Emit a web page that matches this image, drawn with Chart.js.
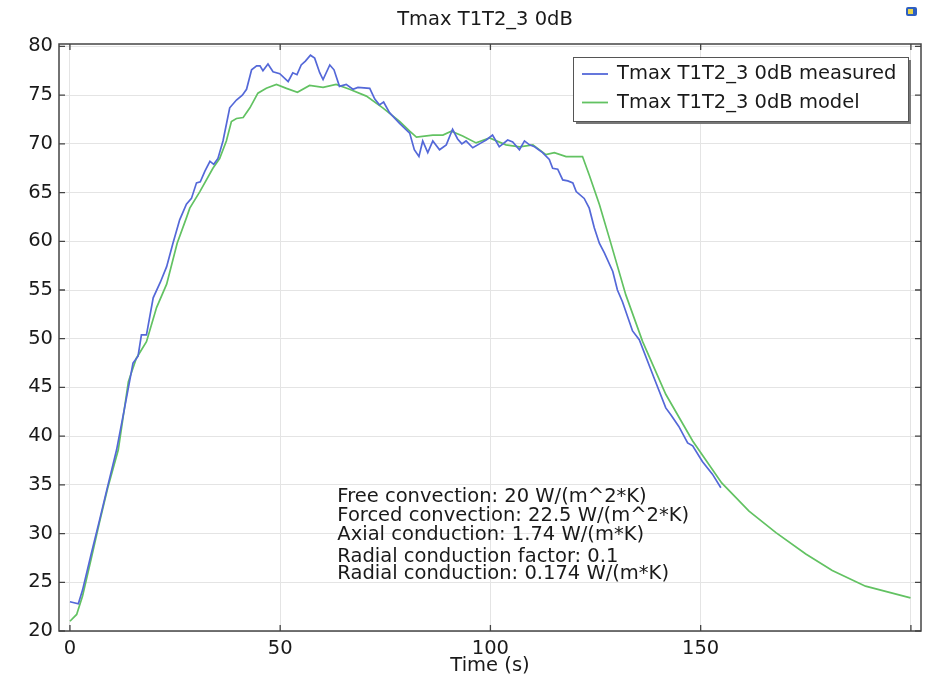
<!DOCTYPE html>
<html>
<head>
<meta charset="utf-8">
<script src="https://cdn.jsdelivr.net/npm/chart.js@4"></script>
<style>
  html, body { margin: 0; padding: 0; background: #fff; }
  canvas { display: block; }
</style>
</head>
<body>
<canvas id="chart" width="925" height="678"></canvas>
<script>
// Data
const chartTitle = 'Tmax T1T2_3 0dB';
const seriesNames = ['Tmax T1T2_3 0dB measured', 'Tmax T1T2_3 0dB model'];
const xTickValues = [0, 50, 100, 150, 200];
const xTickLabels = ['0', '50', '100', '150', ''];   // 200 has a grid line but no label
const yTickValues = [20, 25, 30, 35, 40, 45, 50, 55, 60, 65, 70, 75, 80];

const measuredTime = [0, 2, 3, 5, 7, 9, 11.1, 13, 15, 16.2, 17, 18.2, 19.8, 21.5, 23, 24.5, 26.1, 27.7, 28.9, 30.1,
  31, 32.1, 33.3, 34.2, 35.2, 36.4, 38, 39.6, 41, 42, 43.2, 44.4, 45.2, 45.9, 47.1, 48.3, 49.9, 51.9, 53, 54,
  55, 56, 57.2, 58.2, 59.4, 60.2, 61.8, 62.8, 64.1, 65.7, 67.3, 68.5, 71.3, 72.5, 73.6, 74.6, 76, 78.4, 80.8, 81.9,
  83, 83.9, 85.1, 86.3, 87.9, 89.5, 91, 92.2, 93.2, 94.2, 95.8, 97.8, 99, 100.5, 102.1, 104.1, 105.3, 106.9, 108.1, 109.3,
  110.5, 112.4, 114, 114.8, 116, 117.2, 118.4, 119.6, 120.4, 122.3, 123.5, 124.7, 125.9, 127.1, 129.1, 130.2, 131.4, 133.8,
  135.4, 138.9, 141.7, 142.9, 144.8, 146.9, 148.1, 150.4, 152.8, 154.8];
const measuredTemp = [23.0, 22.8, 24.2, 27.8, 31.3, 34.9, 38.6, 42.9, 47.5, 48.2, 50.4, 50.4, 54.2, 55.8, 57.4, 59.8, 62.2, 63.8, 64.4, 66.0,
  66.1, 67.2, 68.2, 67.9, 68.5, 70.3, 73.7, 74.5, 75.0, 75.6, 77.6, 78.0, 78.0, 77.5, 78.2, 77.4, 77.2, 76.4, 77.3, 77.1,
  78.1, 78.5, 79.1, 78.8, 77.3, 76.6, 78.1, 77.6, 75.9, 76.1, 75.6, 75.8, 75.7, 74.6, 74.0, 74.3, 73.2, 72.1, 71.1, 69.4,
  68.7, 70.3, 69.1, 70.3, 69.4, 69.9, 71.5, 70.5, 70.0, 70.3, 69.6, 70.1, 70.4, 70.9, 69.7, 70.4, 70.2, 69.4, 70.3, 69.9,
  69.7, 69.1, 68.4, 67.5, 67.4, 66.3, 66.2, 66.0, 65.1, 64.4, 63.4, 61.4, 59.8, 58.8, 56.9, 55.0, 53.8, 50.8,
  49.9, 46.0, 42.9, 42.2, 41.0, 39.3, 39.0, 37.4, 36.1, 34.7];

const modelTime = [0, 1.6, 3, 5, 7, 9, 11.5, 13.9, 15.8, 18.2, 20.6, 23, 25.5, 27.7, 28.5, 30.9, 34, 35.6, 37.2, 38.4,
  39.6, 41.2, 42.8, 44.7, 46.7, 49.1, 51.5, 54.1, 57, 60.2, 63.3, 66.5, 70.5, 74.4, 78.4, 80.8, 82.4, 86.3, 88.7, 90.7,
  93.4, 96.6, 99.8, 103.7, 106.9, 110.1, 113.2, 115.2, 118, 121.9, 123.5, 125.9, 128.3, 132.2, 136.2, 141.7, 148.1, 155,
  161.5, 167.9, 175, 181.3, 189.2, 199.9];
const modelTemp = [21.0, 21.7, 23.6, 27.3, 31.1, 34.7, 38.6, 45.6, 48.0, 49.7, 53.2, 55.6, 59.8, 62.4, 63.4, 65.1, 67.5, 68.5, 70.3, 72.3,
  72.6, 72.7, 73.7, 75.2, 75.7, 76.1, 75.7, 75.3, 76.0, 75.8, 76.1, 75.6, 74.9, 73.7, 72.3, 71.3, 70.7, 70.9, 70.9, 71.3,
  70.8, 70.1, 70.6, 69.9, 69.7, 69.9, 68.9, 69.1, 68.7, 68.7, 66.8, 63.8, 60.3, 54.5, 49.7, 44.3, 39.5, 35.2,
  32.3, 30.1, 27.9, 26.2, 24.6, 23.4];

const noteLines = [
  'Free convection: 20 W/(m^2*K)',
  'Forced convection: 22.5 W/(m^2*K)',
  'Axial conduction: 1.74 W/(m*K)',
  'Radial conduction factor: 0.1',
  'Radial conduction: 0.174 W/(m*K)'
];

const FONT = '"DejaVu Sans", Verdana, sans-serif';
const TXT = '#1a1a1a';
const blue = '#5468d8';
const green = '#62c262';

function toPoints(xs, ys) {
  return xs.map((x, i) => ({ x: x, y: ys[i] }));
}

// frame, inward ticks, title, legend, notes and the little icon
const decorPlugin = {
  id: 'decor',
  afterDraw(chart) {
    const ctx = chart.ctx;
    const a = chart.chartArea;
    const xs = chart.scales.x;
    const ys = chart.scales.y;
    ctx.save();

    // frame
    ctx.strokeStyle = '#444';
    ctx.lineWidth = 1.5;
    ctx.strokeRect(a.left, a.top, a.right - a.left, a.bottom - a.top);

    // inward ticks
    ctx.lineWidth = 1.3;
    ctx.beginPath();
    xTickValues.forEach(v => {
      const px = xs.getPixelForValue(v);
      ctx.moveTo(px, a.bottom); ctx.lineTo(px, a.bottom - 6);
      ctx.moveTo(px, a.top); ctx.lineTo(px, a.top + 6);
    });
    yTickValues.forEach(v => {
      const py = ys.getPixelForValue(v);
      ctx.moveTo(a.left, py); ctx.lineTo(a.left + 6, py);
      ctx.moveTo(a.right, py); ctx.lineTo(a.right - 6, py);
    });
    ctx.stroke();

    // title and axis label
    ctx.fillStyle = TXT;
    ctx.textAlign = 'center';
    ctx.textBaseline = 'middle';
    ctx.font = '19.5px ' + FONT;
    ctx.fillText(chartTitle, (a.left + a.right) / 2 - 5, 20);
    ctx.fillText('Time (s)', (a.left + a.right) / 2, a.bottom + 35);

    // notes
    ctx.textAlign = 'left';
    const nx = xs.getPixelForValue(63.6);
    const ny = ys.getPixelForValue(33.8);
    const offs = [0, 19.3, 38.6, 60.3, 77];
    noteLines.forEach((t, i) => ctx.fillText(t, nx, ny + offs[i]));

    // legend box
    const bw = 335, bh = 64;
    const bx = a.right - 13 - bw, by = a.top + 13;
    ctx.fillStyle = '#777';
    ctx.fillRect(bx + 3, by + 3, bw, bh);
    ctx.fillStyle = '#fff';
    ctx.fillRect(bx, by, bw, bh);
    ctx.strokeStyle = '#555';
    ctx.lineWidth = 1;
    ctx.strokeRect(bx + 0.5, by + 0.5, bw, bh);
    [blue, green].forEach((c, i) => {
      const ly = by + 17 + i * 28.5;
      ctx.strokeStyle = c;
      ctx.lineWidth = 1.8;
      ctx.beginPath();
      ctx.moveTo(bx + 9, ly); ctx.lineTo(bx + 35, ly);
      ctx.stroke();
      ctx.fillStyle = TXT;
      ctx.fillText(seriesNames[i], bx + 44, ly);
    });

    // small toolbar icon, top right
    ctx.fillStyle = '#2f5fc0';
    ctx.beginPath();
    ctx.roundRect(906, 7, 11, 9, 2);
    ctx.fill();
    ctx.fillStyle = '#e8d44a';
    ctx.fillRect(908, 9, 5, 5);

    ctx.restore();
  }
};

new Chart(document.getElementById('chart'), {
  type: 'scatter',
  data: {
    datasets: [
      { label: seriesNames[0], data: toPoints(measuredTime, measuredTemp), showLine: true,
        borderColor: blue, borderWidth: 1.7, pointRadius: 0, fill: false },
      { label: seriesNames[1], data: toPoints(modelTime, modelTemp), showLine: true,
        borderColor: green, borderWidth: 1.7, pointRadius: 0, fill: false }
    ]
  },
  options: {
    responsive: false,
    animation: false,
    layout: { padding: { top: 44, right: 4, left: 0, bottom: 0 } },
    plugins: { legend: { display: false }, title: { display: false }, tooltip: { enabled: false } },
    scales: {
      x: {
        type: 'linear', min: -2.6, max: 202.4,
        afterBuildTicks: s => { s.ticks = xTickValues.map(v => ({ value: v })); },
        afterFit: s => { s.height = 47; },
        grid: { color: '#e4e4e4', lineWidth: 1, drawTicks: false },
        border: { display: false },
        ticks: { color: TXT, padding: 6, font: { family: FONT, size: 19.5 }, maxRotation: 0,
          callback: (v, i) => xTickLabels[i] }
      },
      y: {
        type: 'linear', min: 20, max: 80.25,
        afterBuildTicks: s => { s.ticks = yTickValues.map(v => ({ value: v })); },
        afterFit: s => { s.width = 59; },
        grid: { color: '#e4e4e4', lineWidth: 1, drawTicks: false },
        border: { display: false },
        ticks: { color: TXT, padding: 6, font: { family: FONT, size: 19.5 } }
      }
    }
  },
  plugins: [decorPlugin]
});
</script>
</body>
</html>
